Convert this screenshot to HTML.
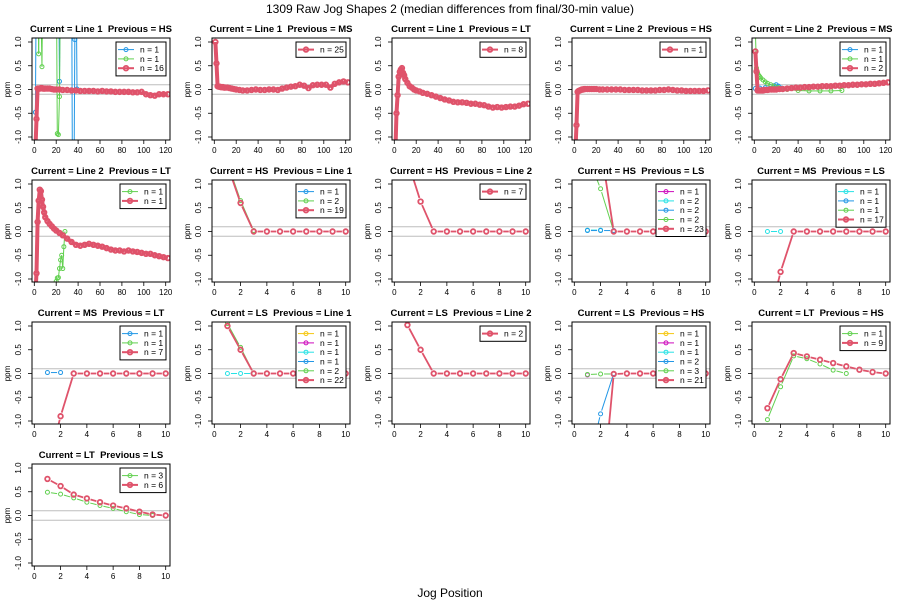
<!DOCTYPE html>
<html><head><meta charset="utf-8"><style>
body{margin:0;background:#fff}
svg text{font-family:"Liberation Sans",Arial,sans-serif;white-space:pre}
</style></head><body>
<svg id="chart" width="900" height="600" viewBox="0 0 900 600" xmlns="http://www.w3.org/2000/svg">
<rect width="900" height="600" fill="#fff"/>
<text x="450" y="13" text-anchor="middle" font-size="12">1309 Raw Jog Shapes 2 (median differences from final/30-min value)</text>
<text x="450" y="597" text-anchor="middle" font-size="12">Jog Position</text>
<g id="panels"></g>
</svg>
<script>
const RED="#DF536B",GRN="#61D04F",BLU="#2297E6",CYN="#28E2E5",MAG="#CD0BBC",YEL="#F5C710";
const titles=["Current = Line 1  Previous = HS","Current = Line 1  Previous = MS","Current = Line 1  Previous = LT","Current = Line 2  Previous = HS","Current = Line 2  Previous = MS",
"Current = Line 2  Previous = LT","Current = HS  Previous = Line 1","Current = HS  Previous = Line 2","Current = HS  Previous = LS","Current = MS  Previous = LS",
"Current = MS  Previous = LT","Current = LS  Previous = Line 1","Current = LS  Previous = Line 2","Current = LS  Previous = HS","Current = LT  Previous = HS",
"Current = LT  Previous = LS"];
const xMaxes=[120,120,120,120,120,120,10,10,10,10,10,10,10,10,10,10];
const legendColors=[[BLU,GRN,RED],[RED],[RED],[RED],[BLU,GRN,RED],[GRN,RED],[BLU,GRN,RED],[RED],[MAG,CYN,BLU,GRN,RED],[CYN,BLU,GRN,RED],[BLU,GRN,RED],[YEL,MAG,CYN,BLU,GRN,RED],[RED],[YEL,MAG,CYN,BLU,GRN,RED],[GRN,RED],[GRN,RED]];
const legendCounts=[[1,1,16],[25],[8],[1],[1,1,2],[1,1],[1,2,19],[7],[1,2,2,2,23],[1,1,1,17],[1,1,7],[1,1,1,1,2,22],[2],[1,1,1,2,3,21],[1,9],[3,6]];
const longX=[1,2,3,4,5,6,7,8,9,10,12,14,16,18,20,23,26,30,34,38,42,46,50,54,58,62,66,70,74,78,82,86,90,94,98,102,106,110,114,118,122];
const p1Red=[-1.3,-0.62,0.02,0.02,0.02,0.03,0.03,0.02,0.02,0.02,0.02,0.02,0.01,0.0,0.0,0.0,-0.01,-0.01,-0.02,-0.02,-0.03,-0.03,-0.03,-0.03,-0.04,-0.03,-0.04,-0.04,-0.05,-0.05,-0.05,-0.05,-0.06,-0.06,-0.05,-0.1,-0.12,-0.13,-0.1,-0.1,-0.1];
const p1BluX=[1,2,3,22,23,24,34,35,36,37,38,39];
const p1BluY=[-0.48,3,3,3,0.17,3,3,-3,-3,1.05,3,0.01];
const p1GrnX=[2,3,4,5,7,8,20,21,22,23,24];
const p1GrnY=[3,3,0.75,3,0.48,3,3,-0.93,-0.95,-0.15,3];
const p2Red=[1.0,0.55,0.07,0.06,0.06,0.05,0.05,0.05,0.04,0.04,0.04,0.03,0.02,0.01,0.0,-0.01,-0.02,-0.02,-0.01,0.0,-0.01,-0.01,0.0,0.0,-0.01,0.02,0.04,0.06,0.07,0.1,0.08,0.03,0.09,0.1,0.1,0.1,0.04,0.12,0.15,0.17,0.15];
const p3Red=[-1.3,-0.5,-0.12,0.27,0.37,0.42,0.45,0.35,0.3,0.22,0.14,0.07,0.04,0.0,-0.02,-0.04,-0.07,-0.09,-0.12,-0.15,-0.18,-0.21,-0.23,-0.26,-0.27,-0.27,-0.28,-0.3,-0.3,-0.32,-0.33,-0.36,-0.38,-0.37,-0.38,-0.37,-0.36,-0.36,-0.34,-0.31,-0.3];
const p4Red=[-1.3,-0.75,-0.05,-0.03,-0.02,-0.01,0.0,0.0,0.01,0.01,0.01,0.01,0.01,0.01,0.01,0.0,0.0,0.0,0.0,0.0,0.0,-0.01,-0.01,-0.01,-0.01,-0.02,-0.02,-0.02,-0.02,-0.01,-0.01,0.0,-0.01,-0.02,-0.02,-0.03,-0.03,-0.03,-0.03,-0.03,-0.02];
const p5Red=[0.8,0.38,-0.02,-0.02,-0.02,-0.02,-0.02,-0.02,-0.01,-0.01,-0.01,0.0,0.0,0.0,0.0,0.01,0.01,0.02,0.03,0.04,0.04,0.05,0.05,0.06,0.06,0.07,0.07,0.07,0.08,0.08,0.09,0.09,0.1,0.1,0.11,0.11,0.12,0.12,0.13,0.14,0.15];
const p5GrnX=[1,2,3,4,5,6,8,10,12,15,18,22,26,30,40,50,60,70,80];
const p5GrnY=[1.2,0.45,0.35,0.3,0.27,0.24,0.2,0.16,0.13,0.1,0.07,0.04,0.02,0.0,-0.02,-0.03,-0.03,-0.03,-0.02];
const p5BluX=[1,5,10,15,18,20,22,25];
const p5BluY=[0.02,0.03,0.04,0.06,0.08,0.1,0.07,0.03];
const p6Red=[-1.3,-0.88,0.2,0.65,0.88,0.85,0.67,0.52,0.4,0.3,0.22,0.16,0.11,0.06,0.02,-0.03,-0.08,-0.15,-0.22,-0.28,-0.3,-0.28,-0.26,-0.28,-0.3,-0.32,-0.35,-0.38,-0.4,-0.4,-0.42,-0.4,-0.42,-0.43,-0.45,-0.47,-0.47,-0.5,-0.52,-0.54,-0.56];
const p6GrnX=[20,21,22,23,24,25,26,27,28];
const p6GrnY=[-1.05,-0.98,-0.97,-0.78,-0.6,-0.5,-0.78,-0.32,0.0];
const sx=[1,2,3,4,5,6,7,8,9,10];
const p7Red=[1.4,0.6,0,0,0,0,0,0,0,0];
const p7Grn=[1.45,0.65,0.02,null,null,null,null,null,null,null];
const p8Red=[1.5,0.63,0,0,0,0,0,0,0,0];
const p9Red=[3,1.8,0,0,0,0,0,0,0,0];
const p9Grn=[1.6,0.9,0.0,null,null,null,null,null,null,null];
const p9Blu=[0.02,0.02,0.02,null,null,null,null,null,null,null];
const p9Cyn=[0.03,0.03,null,null,null,null,null,null,null,null];
const p10Red=[-2,-0.85,0,0,0,0,0,0,0,0];
const p10Cyn=[0,0,null,null,null,null,null,null,null,null];
const p11Red=[-2,-0.9,0,0,0,0,0,0,0,0];
const p11Blu=[0.02,0.02,null,null,null,null,null,null,null,null];
const p12Red=[1.0,0.5,0,0,0,0,0,0,0,0];
const p12Grn=[1.05,0.55,0.0,null,null,null,null,null,null,null];
const p12Cyn=[0,0,0,null,null,null,null,null,null,null];
const p13Red=[1.02,0.5,0,0,0,0,0,0,0,0];
const p14Red=[-3,-3,-0.01,0,0,0,0,0,0,0];
const p14Blu=[-2,-0.85,0.0,null,null,null,null,null,null,null];
const p14Grn=[-0.02,-0.01,-0.01,null,null,null,null,null,null,null];
const p14Mag=[-0.03,null,null,null,null,null,null,null,null,null];
const p15Red=[-0.73,-0.12,0.43,0.36,0.29,0.22,0.15,0.08,0.03,0];
const p15Grn=[-0.97,-0.28,0.37,0.31,0.2,0.07,0.0,null,null,null];
const p16Red=[0.77,0.62,0.44,0.36,0.28,0.21,0.15,0.08,0.02,0];
const p16Grn=[0.49,0.45,0.37,0.28,0.21,0.15,0.08,0.02,0.0,null];
const series=[
 [[BLU,0,p1BluX,p1BluY,"l"],[GRN,0,p1GrnX,p1GrnY,"l"],[RED,1,longX,p1Red,"l"]],
 [[RED,1,longX,p2Red,"l"]],
 [[RED,1,longX,p3Red,"l"]],
 [[RED,1,longX,p4Red,"l"]],
 [[BLU,0,p5BluX,p5BluY,"l"],[GRN,0,p5GrnX,p5GrnY,"l"],[RED,1,longX,p5Red,"l"]],
 [[GRN,0,p6GrnX,p6GrnY,"l"],[RED,1,longX,p6Red,"l"]],
 [[GRN,0,sx,p7Grn,"b"],[RED,1,sx,p7Red,"b"]],
 [[RED,1,sx,p8Red,"b"]],
 [[CYN,0,sx,p9Cyn,"b"],[BLU,0,sx,p9Blu,"b"],[GRN,0,sx,p9Grn,"b"],[RED,1,sx,p9Red,"b"]],
 [[CYN,0,sx,p10Cyn,"b"],[RED,1,sx,p10Red,"b"]],
 [[BLU,0,sx,p11Blu,"b"],[RED,1,sx,p11Red,"b"]],
 [[CYN,0,sx,p12Cyn,"b"],[GRN,0,sx,p12Grn,"b"],[RED,1,sx,p12Red,"b"]],
 [[RED,1,sx,p13Red,"b"]],
 [[MAG,0,sx,p14Mag,"b"],[GRN,0,sx,p14Grn,"b"],[BLU,0,sx,p14Blu,"b"],[RED,1,sx,p14Red,"b"]],
 [[GRN,0,sx,p15Grn,"b"],[RED,1,sx,p15Red,"b"]],
 [[GRN,0,sx,p16Grn,"b"],[RED,1,sx,p16Red,"b"]]
];
const yTicks=[-1,-0.5,0,0.5,1];
const yTickLabels=["-1.0","-0.5","0.0","0.5","1.0"];
const NS="http://www.w3.org/2000/svg";
const root=document.getElementById("panels");
function mk(tag,attrs,parent){const e=document.createElementNS(NS,tag);for(const k in attrs)e.setAttribute(k,attrs[k]);parent.appendChild(e);return e;}
titles.forEach((t,i)=>{
 const col=i%5,row=Math.floor(i/5);
 const ox=col*180,oy=row*142;
 const L=ox+32,R=ox+170,T=oy+38,B=oy+140;
 const xmax=xMaxes[i];
 const X=v=>ox+34.3+v/xmax*131.4;
 const Y=v=>oy+89.5-v*47.5;
 const g=mk("g",{},root);
 
 
 const cp=mk("clipPath",{id:"c"+i},g);mk("rect",{x:L,y:T,width:R-L,height:B-T},cp);
 const tt=mk("text",{x:(L+R)/2,y:oy+32,"text-anchor":"middle","font-size":"9.5","font-weight":"bold"},g);tt.textContent=t;
 
 
 const yl=mk("text",{x:0,y:0,transform:`translate(${ox+10},${Y(0)}) rotate(-90)`,"text-anchor":"middle","font-size":"8"},g);yl.textContent="ppm";
 
 
 yTicks.forEach((v,k)=>{
  mk("line",{x1:L-4,x2:L,y1:Y(v),y2:Y(v),stroke:"#000","stroke-width":0.8},g);
  const tx=mk("text",{x:0,y:0,transform:`translate(${ox+21},${Y(v)}) rotate(-90)`,"text-anchor":"middle","font-size":"8"},g);tx.textContent=yTickLabels[k];
  
  
 });
 const step=xmax===120?20:2;
 for(let v=0;v<=xmax;v+=step){
  mk("line",{x1:X(v),x2:X(v),y1:B,y2:B+4,stroke:"#000","stroke-width":0.8},g);
  const tx=mk("text",{x:X(v),y:B+13,"text-anchor":"middle","font-size":"8"},g);tx.textContent=String(v);
  
  
 }
 [0.1,-0.1].forEach(v=>mk("line",{x1:L,x2:R,y1:Y(v),y2:Y(v),stroke:"#bebebe","stroke-width":1},g));
 const pg=mk("g",{"clip-path":`url(#c${i})`},g);
 series[i].forEach(s=>{
  const [c,thick,xs,ys,type]=s;
  const sg=mk("g",{},pg);
  
  
  const lw=thick?(type==="l"?4:1.8):1;
  const r=thick?2.3:2;
  const pts=[];
  xs.forEach((x,k)=>{if(ys[k]!==null&&ys[k]!==undefined)pts.push([X(x),Y(ys[k])]);});
  for(let k=0;k<pts.length-1;k++){
   let [x1,y1]=pts[k],[x2,y2]=pts[k+1];
   if(type==="b"){const dx=x2-x1,dy=y2-y1,d=Math.hypot(dx,dy),gp=r+1.5;
    if(d<=2*gp)continue;x1+=dx/d*gp;y1+=dy/d*gp;x2-=dx/d*gp;y2-=dy/d*gp;}
   mk("line",{x1,y1,x2,y2,stroke:c,"stroke-width":lw},sg);
  }
  pts.forEach(p=>{const m=mk("circle",{cx:p[0],cy:p[1],r:r,fill:"none",stroke:c,"stroke-width":thick?1.8:1},sg);
   
   });
 });
 mk("rect",{x:L,y:T,width:R-L,height:B-T,fill:"none",stroke:"#000","stroke-width":1},g);
 const cols=legendColors[i],ns=legendCounts[i];
 const maxw=ns.some(n=>n>=10)?50:46;
 const lh=cols.length*9.3+6,lx=R-4-maxw,ly=T+4;
 const lg=mk("g",{},g);
 
 
 mk("rect",{x:lx,y:ly,width:maxw,height:lh,fill:"#fff",stroke:"#000","stroke-width":1},lg);
 cols.forEach((c,k)=>{
  const yy=ly+3+4.6+k*9.3,thick=c===RED;
  const e=mk("g",{},lg);
  
  
  mk("line",{x1:lx+2,x2:lx+18,y1:yy,y2:yy,stroke:c,"stroke-width":thick?2:1},e);
  mk("circle",{cx:lx+10,cy:yy,r:thick?2.3:2,fill:"none",stroke:c,"stroke-width":thick?1.8:1},e);
  const tx=mk("text",{x:lx+24,y:yy+3,"font-size":"8.5"},e);tx.textContent="n = "+ns[k];
 });
});
</script>
</body></html>
